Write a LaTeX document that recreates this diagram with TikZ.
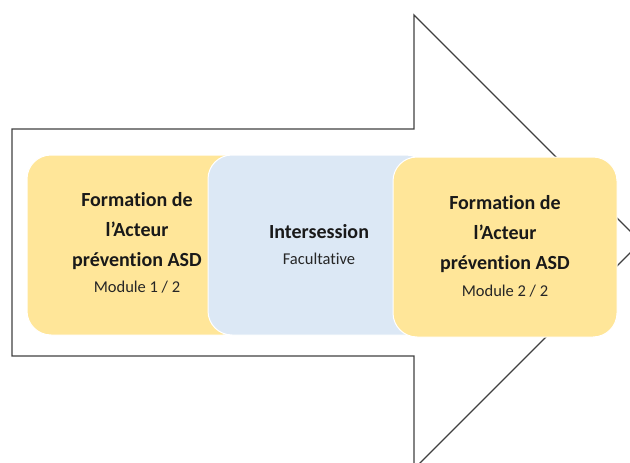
\documentclass[tikz,border=0pt]{standalone}
\usepackage{fontspec}
\setmainfont{Carlito}[RawFeature={-liga}]
\usepackage{tikz}

\definecolor{jaune}{HTML}{FFE699}
\definecolor{bleu}{HTML}{DCE8F5}
\definecolor{trait}{HTML}{404040}

\tikzset{
	etape/.style={rounded corners=24pt, draw=white, line width=1pt, minimum height=180pt, align=center, inner sep=0pt},
	titre/.style={font=\fontsize{20}{30}\selectfont\bfseries, text=black!90},
	sous/.style={font=\fontsize{16.5}{18}\selectfont, text=black!85},
}

\begin{document}
\begin{tikzpicture}[x=1pt, y=-1pt]
			\useasboundingbox (0,0) rectangle (630,463);
			\clip (0,0) rectangle (630,463);
			
			% grande fleche
			\draw[trait, line width=1.4pt] (12,129) -- (414,129) -- (414,15) -- (641,242) -- (414,469) -- (414,356) -- (12,356) -- cycle;
			
			% modules
			\node[etape, fill=jaune, minimum width=220pt] (M1) at (137,245) {};
			\node[etape, fill=bleu, minimum width=222pt] (I) at (319,245) {};
			\node[etape, fill=jaune, minimum width=224pt] (M2) at (505,247) {};
			
			\node[titre, align=center] (T1) at (137,231) {Formation de\\l’Acteur\\prévention ASD};
			\node[sous] (S1) at (137,287) {Module 1 / 2};
			
			\node[titre] (T2) at (319,232) {Intersession};
			\node[sous] (S2) at (319,259) {Facultative};
			
			\node[titre, align=center] (T3) at (505,234) {Formation de\\l’Acteur\\prévention ASD};
			\node[sous] (S3) at (505,291) {Module 2 / 2};
			
		\end{tikzpicture}
\end{document}
